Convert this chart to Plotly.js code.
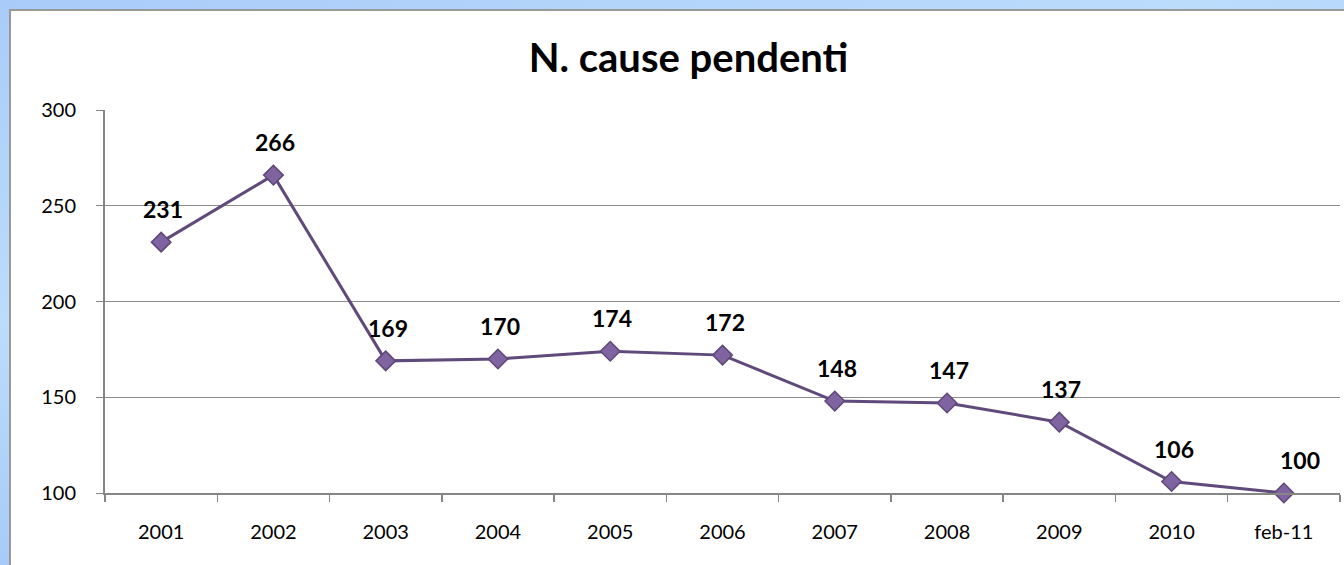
<!DOCTYPE html>
<html><head><meta charset="utf-8">
<script src="https://cdn.plot.ly/plotly-3.0.1.min.js"></script>
<style>
html,body{margin:0;padding:0;}
#wrap{position:relative;width:1344px;height:565px;overflow:hidden;
 background:linear-gradient(165deg,#a9cbf9 0%,#bcdcfc 35%,#a4c8f8 65%,#82acf3 100%);}
#panel{position:absolute;left:9px;top:9px;width:1335px;height:556px;background:#fff;
 border-left:2px solid #999;border-top:2px solid #999;}
#chart{width:1333px;height:554px;}
</style></head>
<body><div id="wrap"><div id="panel"><div id="chart"></div></div></div>
<script>
const categories = ["2001","2002","2003","2004","2005","2006","2007","2008","2009","2010","feb-11"];
const values = [231,266,169,170,174,172,148,147,137,106,100];
const yTicks = [100,150,200,250,300];
const titleText = "N. cause pendenti";

const font = "Lato, 'Open Sans', sans-serif";
const idx = categories.map((c,i)=>i);
const bounds = categories.map((c,i)=>i-0.5).concat([categories.length-0.5]);
const trace = {
  x: idx, y: values, type: "scatter", mode: "lines+markers",
  line: {color: "#604a7b", width: 3},
  marker: {symbol: "diamond", size: 15, color: "#8064a2", line: {color: "#5e4878", width: 1.5}},
  hoverinfo: "skip", cliponaxis: false
};
const annotations = idx.map(i=>({
  x: i, y: values[i], xref: "x", yref: "y", text: "<b>"+values[i]+"</b>", showarrow: false,
  yshift: 33, xshift: (i === idx.length-1 ? 16 : 2), font: {family: font, size: 23, color: "#000"}
}));
const layout = {
  width: 1333, height: 554,
  margin: {l: 94, r: 4, t: 99, b: 72},
  paper_bgcolor: "rgba(0,0,0,0)", plot_bgcolor: "#fff",
  title: {text: "<b>"+titleText+"</b>", x: 0.5 + 11/1333, xanchor: "center", xref: "container",
          y: 1 - 47/554, yref: "container", yanchor: "middle",
          font: {family: font, size: 40, color: "#000"}},
  showlegend: false,
  xaxis: {type: "linear", range: [-0.5, categories.length-0.5], showgrid: false, showline: true,
          linecolor: "#868686", linewidth: 2, zeroline: false,
          tickmode: "array", tickvals: idx, ticktext: categories, ticks: "", ticklabelstandoff: 20,
          tickfont: {family: font, size: 20, color: "#000"},
          minor: {tickmode: "array", tickvals: bounds, ticks: "outside", ticklen: 7, tickcolor: "#868686", tickwidth: 1.5, showgrid: false},
          fixedrange: true},
  yaxis: {type: "linear", range: [100, 300], tickmode: "array", tickvals: yTicks, showgrid: true, gridcolor: "#8c8c8c", gridwidth: 1,
          showline: true, linecolor: "#868686", linewidth: 2, ticks: "outside", ticklen: 7,
          tickcolor: "#868686", tickfont: {family: font, size: 20, color: "#000"}, ticklabelstandoff: 16,
          zeroline: false, fixedrange: true},
  annotations: annotations
};
Plotly.newPlot("chart", [trace], layout, {displayModeBar: false, staticPlot: true});
</script></body></html>
